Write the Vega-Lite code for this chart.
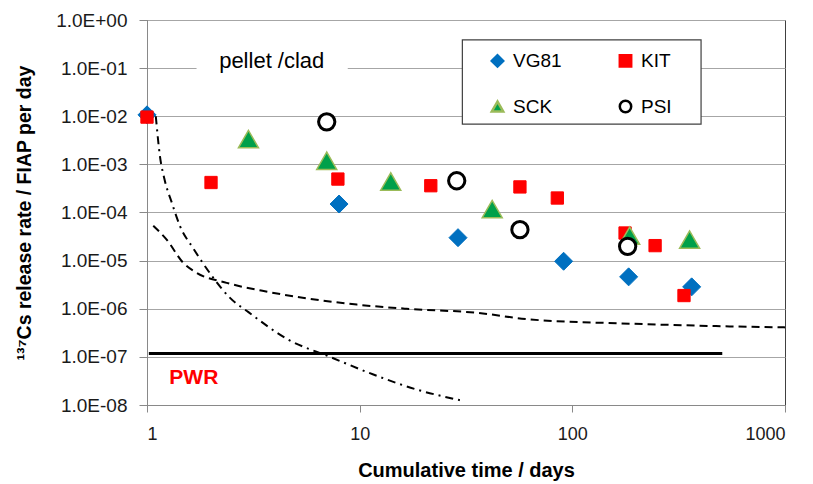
{
  "$schema": "https://vega.github.io/schema/vega-lite/v6.json",
  "width": 638,
  "height": 385,
  "autosize": {"type": "none"},
  "padding": {"left": 147, "top": 20, "right": 28, "bottom": 79},
  "background": "white",
  "config": {
    "view": {"stroke": "#404040", "strokeWidth": 1},
    "font": "Liberation Sans"
  },
  "datasets": {
    "boxes": [
      {"box": "pellet", "t": 1.71, "t2": 8.79, "rate": 0.2, "rate2": 0.05},
      {"box": "legend", "t": 30.4, "t2": 403, "rate": 0.385, "rate2": 0.00685}
    ],
    "curves": [
      {"curve": "dashdot", "t": 1.10, "rate": 0.0100},
      {"curve": "dashdot", "t": 1.15, "rate": 0.0015},
      {"curve": "dashdot", "t": 1.21, "rate": 0.00048},
      {"curve": "dashdot", "t": 1.31, "rate": 0.000157},
      {"curve": "dashdot", "t": 1.43, "rate": 0.000052},
      {"curve": "dashdot", "t": 1.65, "rate": 0.000018},
      {"curve": "dashdot", "t": 2.0, "rate": 0.0000051},
      {"curve": "dashdot", "t": 2.45, "rate": 0.0000017},
      {"curve": "dashdot", "t": 3.0, "rate": 0.00000085},
      {"curve": "dashdot", "t": 4.6, "rate": 0.00000023},
      {"curve": "dashdot", "t": 7.25, "rate": 0.0000001},
      {"curve": "dashdot", "t": 11.6, "rate": 0.000000043},
      {"curve": "dashdot", "t": 18.5, "rate": 0.000000021},
      {"curve": "dashdot", "t": 29.6, "rate": 0.0000000126},
      {"curve": "dashed", "t": 1.07, "rate": 0.000053},
      {"curve": "dashed", "t": 1.24, "rate": 0.000027},
      {"curve": "dashed", "t": 1.48, "rate": 0.000009},
      {"curve": "dashed", "t": 1.71, "rate": 0.0000056},
      {"curve": "dashed", "t": 2.37, "rate": 0.00000345},
      {"curve": "dashed", "t": 3.7, "rate": 0.00000225},
      {"curve": "dashed", "t": 9.7, "rate": 0.00000122},
      {"curve": "dashed", "t": 16.6, "rate": 0.000001},
      {"curve": "dashed", "t": 36, "rate": 0.00000082},
      {"curve": "dashed", "t": 63, "rate": 0.0000006},
      {"curve": "dashed", "t": 187, "rate": 0.00000049},
      {"curve": "dashed", "t": 551, "rate": 0.00000043},
      {"curve": "dashed", "t": 1000, "rate": 0.00000041},
      {"curve": "solid", "t": 1.02, "rate": 0.000000118},
      {"curve": "solid", "t": 507, "rate": 0.000000118}
    ],
    "pts": [
      {"series": "VG81", "t": 1, "rate": 0.0107},
      {"series": "VG81", "t": 8, "rate": 0.00015},
      {"series": "VG81", "t": 29, "rate": 0.00003},
      {"series": "VG81", "t": 91, "rate": 0.0000097},
      {"series": "VG81", "t": 184, "rate": 0.0000046},
      {"series": "VG81", "t": 364, "rate": 0.00000285},
      {"series": "KIT", "t": 1, "rate": 0.0096},
      {"series": "KIT", "t": 2, "rate": 0.00042},
      {"series": "KIT", "t": 7.9, "rate": 0.000495},
      {"series": "KIT", "t": 21.6, "rate": 0.00036},
      {"series": "KIT", "t": 56.7, "rate": 0.00034},
      {"series": "KIT", "t": 85, "rate": 0.0002},
      {"series": "KIT", "t": 177, "rate": 0.0000375},
      {"series": "KIT", "t": 245, "rate": 0.0000205},
      {"series": "KIT", "t": 335, "rate": 0.00000188},
      {"series": "SCK", "t": 3, "rate": 0.00335},
      {"series": "SCK", "t": 7, "rate": 0.00119},
      {"series": "SCK", "t": 14, "rate": 0.00044},
      {"series": "SCK", "t": 42, "rate": 0.000118},
      {"series": "SCK", "t": 186, "rate": 0.000033},
      {"series": "SCK", "t": 356, "rate": 0.0000273},
      {"series": "PSI", "t": 7, "rate": 0.00765},
      {"series": "PSI", "t": 28.6, "rate": 0.000457},
      {"series": "PSI", "t": 56.7, "rate": 0.000044},
      {"series": "PSI", "t": 182, "rate": 0.0000198}
    ],
    "labels": [
      {"label": "pellet /clad", "t": 3.86, "rate": 0.143},
      {"label": "PWR", "t": 1.66, "rate": 0.000000037}
    ]
  },
  "encoding": {
    "x": {
      "field": "t",
      "type": "quantitative",
      "scale": {"type": "log", "domain": [1, 1000], "nice": false},
      "axis": {
        "values": [1, 10, 100, 1000],
        "labelExpr": "format(datum.value, 'd')",
        "grid": false,
        "domainColor": "#898989",
        "tickColor": "#898989",
        "tickSize": 7,
        "labelFont": "Liberation Sans",
        "labelFontSize": 18,
        "labelColor": "#1a1a1a",
        "labelPadding": 13,
        "title": "Cumulative time / days",
        "titleFont": "Liberation Sans",
        "titleFontSize": 20,
        "titleFontWeight": "bold",
        "titleColor": "#000000",
        "titleBaseline": "middle",
        "titleY": 65
      }
    },
    "y": {
      "field": "rate",
      "type": "quantitative",
      "scale": {"type": "log", "domain": [1e-8, 1], "nice": false},
      "axis": {
        "values": [1e-8, 1e-7, 1e-6, 1e-5, 1e-4, 1e-3, 1e-2, 1e-1, 1],
        "labelExpr": "'1.0E' + (datum.value >= 0.5 ? '+' : '-') + (abs(round(log(datum.value)/LN10)) < 10 ? '0' : '') + abs(round(log(datum.value)/LN10))",
        "grid": true,
        "gridColor": "#A6A6A6",
        "gridWidth": 1,
        "domainColor": "#898989",
        "tickColor": "#898989",
        "tickSize": 8,
        "labelFont": "Liberation Sans",
        "labelFontSize": 19,
        "labelColor": "#1a1a1a",
        "labelPadding": 12,
        "title": "¹³⁷Cs release rate / FIAP per day",
        "titleFont": "Liberation Sans",
        "titleFontSize": 19.5,
        "titleFontWeight": "bold",
        "titleColor": "#000000",
        "titleBaseline": "middle",
        "titleX": -123
      }
    }
  },
  "layer": [
    {
      "data": {"name": "boxes"},
      "transform": [{"filter": "datum.box === 'pellet'"}],
      "mark": {"type": "rect", "fill": "white", "strokeWidth": 0},
      "encoding": {"x2": {"field": "t2"}, "y2": {"field": "rate2"}}
    },
    {
      "data": {"name": "boxes"},
      "transform": [{"filter": "datum.box === 'legend'"}],
      "mark": {"type": "rect", "fill": "white", "stroke": "#404040", "strokeWidth": 1.2},
      "encoding": {"x2": {"field": "t2"}, "y2": {"field": "rate2"}}
    },
    {
      "data": {"name": "curves"},
      "transform": [{"filter": "datum.curve === 'dashdot'"}],
      "mark": {"type": "line", "color": "black", "strokeWidth": 2, "strokeDash": [8, 5, 2, 5], "interpolate": "monotone"},
      "encoding": {}
    },
    {
      "data": {"name": "curves"},
      "transform": [{"filter": "datum.curve === 'dashed'"}],
      "mark": {"type": "line", "color": "black", "strokeWidth": 2, "strokeDash": [8, 5], "interpolate": "monotone"},
      "encoding": {}
    },
    {
      "data": {"name": "curves"},
      "transform": [{"filter": "datum.curve === 'solid'"}],
      "mark": {"type": "line", "color": "black", "strokeWidth": 3},
      "encoding": {}
    },
    {
      "data": {"name": "pts"},
      "mark": {"type": "point", "filled": true, "opacity": 1},
      "encoding": {
        "shape": {
          "field": "series",
          "type": "nominal",
          "scale": {"domain": ["VG81", "KIT", "SCK", "PSI"], "range": ["diamond", "square", "triangle-up", "circle"]},
          "legend": {
            "orient": "none",
            "legendX": 341,
            "legendY": 31,
            "columns": 2,
            "direction": "horizontal",
            "title": null,
            "padding": 0,
            "labelFont": "Liberation Sans",
            "labelFontSize": 19,
            "labelColor": "#000000",
            "labelOffset": 6,
            "columnPadding": 52,
            "rowPadding": 23,
            "symbolSize": 130,
            "symbolStrokeWidth": 2.5
          }
        },
        "fill": {
          "field": "series",
          "type": "nominal",
          "scale": {"domain": ["VG81", "KIT", "SCK", "PSI"], "range": ["#0070C0", "#FF0000", "#00A04A", "#FFFFFF"]}
        },
        "stroke": {
          "field": "series",
          "type": "nominal",
          "scale": {"domain": ["VG81", "KIT", "SCK", "PSI"], "range": ["#0070C0", "#FF0000", "#9BBB59", "#000000"]}
        },
        "size": {
          "condition": [
            {"test": "datum.series === 'VG81'", "value": 324},
            {"test": "datum.series === 'KIT'", "value": 151},
            {"test": "datum.series === 'SCK'", "value": 400}
          ],
          "value": 266
        },
        "strokeWidth": {
          "condition": [
            {"test": "datum.series === 'PSI'", "value": 3},
            {"test": "datum.series === 'SCK'", "value": 1.5}
          ],
          "value": 1
        }
      }
    },
    {
      "data": {"name": "labels"},
      "transform": [{"filter": "datum.label === 'pellet /clad'"}],
      "mark": {"type": "text", "font": "Liberation Sans", "fontSize": 22, "color": "#000000", "align": "center", "baseline": "middle"},
      "encoding": {"text": {"field": "label"}}
    },
    {
      "data": {"name": "labels"},
      "transform": [{"filter": "datum.label === 'PWR'"}],
      "mark": {"type": "text", "font": "Liberation Sans", "fontSize": 21, "fontWeight": "bold", "color": "#FF0000", "align": "center", "baseline": "middle"},
      "encoding": {"text": {"field": "label"}}
    }
  ]
}
